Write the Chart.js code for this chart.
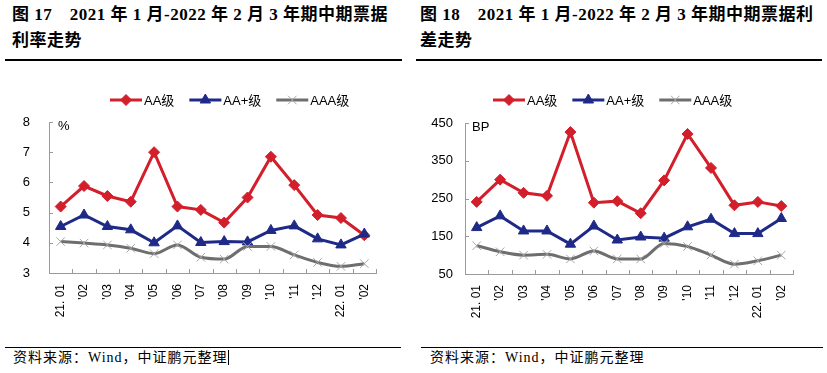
<!DOCTYPE html>
<html>
<head>
<meta charset="utf-8">
<script src="https://cdn.jsdelivr.net/npm/chart.js@4.4.0/dist/chart.umd.min.js"></script>
<style>
  body { margin: 0; width: 827px; height: 373px; background: #fff; position: relative; overflow: hidden; }
  .title { position: absolute; top: 2px; font: bold 17px "Liberation Serif", "Noto Sans CJK SC", serif; line-height: 26px; color: #000; white-space: nowrap; letter-spacing: 0.5px; }
  .rule { position: absolute; height: 0; border-top: 2px solid #000; }
  .src { position: absolute; top: 348px; font: 14px "Liberation Serif", "Noto Sans CJK SC", serif; line-height: 20px; color: #000; white-space: nowrap; letter-spacing: 1px; }
  .box { position: absolute; }
</style>
</head>
<body>
<div class="title" style="left:12px">图 17　2021 年 1 月-2022 年 2 月 3 年期中期票据<br>利率走势</div>
<div class="title" style="left:420px">图 18　2021 年 1 月-2022 年 2 月 3 年期中期票据利<br>差走势</div>
<div class="rule" style="left:5px;top:59px;width:397px"></div>
<div class="rule" style="left:416px;top:59px;width:406px"></div>

<div class="box" style="left:0;top:85px"><canvas id="rate" width="410" height="250"></canvas></div>
<div class="box" style="left:415px;top:85px"><canvas id="spread" width="412" height="251"></canvas></div>

<div class="rule" style="left:5px;top:347px;width:396px;border-top-width:1.5px"></div>
<div class="rule" style="left:421px;top:347px;width:402px;border-top-width:1.5px"></div>
<div class="src" style="left:13px"><span style="border-right:1px solid #000">资料来源：Wind，中证鹏元整理</span></div>
<div class="src" style="left:430px">资料来源：Wind，中证鹏元整理</div>

<script>
// categories
const months = ['21. 01', "'02", "'03", "'04", "'05", "'06", "'07", "'08", "'09", "'10", "'11", "'12", '22. 01', "'02"];

// 3y MTN yields, %
const rateAA     = [5.20, 5.88, 5.55, 5.36, 7.00, 5.20, 5.09, 4.67, 5.50, 6.85, 5.91, 4.92, 4.82, 4.25];
const rateAAplus = [4.54, 4.92, 4.54, 4.43, 4.00, 4.56, 4.01, 4.04, 4.03, 4.41, 4.56, 4.13, 3.93, 4.29];
const rateAAA    = [4.04, 3.99, 3.93, 3.82, 3.64, 3.93, 3.52, 3.46, 3.88, 3.88, 3.60, 3.35, 3.22, 3.31];

// 3y MTN spreads, BP
const spreadAA     = [241, 300, 265, 257, 426, 239, 243, 211, 298, 421, 331, 232, 241, 230];
const spreadAAplus = [173, 204, 164, 164, 129, 177, 140, 148, 145, 175, 195, 157, 157, 197];
const spreadAAA    = [125, 109, 100, 102,  90, 111,  90,  90, 131, 123, 100,  76,  85, 100];

// y axis ticks
const rateTicks = [3, 4, 5, 6, 7, 8];
const spreadTicks = [50, 150, 250, 350, 450];

const seriesNames = ['AA级', 'AA+级', 'AAA级'];

const RED = '#d21f2b';
const BLUE = '#1f2a88';
const GRAY = '#6e6e6e';
const AXIS = '#9a9a9a';

Chart.defaults.font.family = '"Liberation Sans", "Noto Sans CJK SC", sans-serif';
Chart.defaults.font.size = 13;
Chart.defaults.color = '#000';

// inner tick marks, unit label and line+marker legend
const decor = {
  id: 'decor',
  afterDraw(chart, args, opts) {
    const ctx = chart.ctx;
    const a = chart.chartArea;
    const ys = chart.scales.y;
    const n = chart.data.labels.length;
    ctx.save();
    ctx.strokeStyle = AXIS;
    ctx.lineWidth = 1;
    ctx.beginPath();
    for (let i = 0; i <= n; i++) {
      const px = Math.round(a.left + i * (a.right - a.left) / n) + 0.5;
      ctx.moveTo(px, a.bottom);
      ctx.lineTo(px, a.bottom - 4);
    }
    ys.ticks.forEach((t, i) => {
      const py = Math.round(ys.getPixelForTick(i)) + 0.5;
      ctx.moveTo(a.left, py);
      ctx.lineTo(a.left + 4, py);
    });
    ctx.stroke();

    ctx.fillStyle = '#000';
    ctx.font = '13px "Liberation Sans", "Noto Sans CJK SC", sans-serif';
    ctx.textBaseline = 'top';
    ctx.textAlign = 'left';
    ctx.fillText(opts.unit, a.left + opts.unitDx, a.top - 2);

    let lx = opts.legendX;
    const ly = opts.legendY;
    chart.data.datasets.forEach(ds => {
      ctx.strokeStyle = ds.borderColor;
      ctx.lineWidth = 3;
      ctx.beginPath();
      ctx.moveTo(lx, ly);
      ctx.lineTo(lx + 32, ly);
      ctx.stroke();
      ctx.fillStyle = ds.pointBackgroundColor;
      ctx.strokeStyle = ds.pointBorderColor;
      ctx.lineWidth = ds.pointBorderWidth;
      Chart.helpers.drawPoint(ctx, { pointStyle: ds.pointStyle, radius: ds.pointRadius, rotation: 0, borderWidth: ds.pointBorderWidth }, lx + 16, ly);
      ctx.fillStyle = '#000';
      ctx.textBaseline = 'middle';
      ctx.fillText(ds.label, lx + 34, ly + 1);
      lx += 34 + ctx.measureText(ds.label).width + 15;
    });
    ctx.restore();
  }
};

function makeChart(id, aa, aaplus, aaa, ticks, unit, cfg) {
  const step = ticks[1] - ticks[0];
  return new Chart(document.getElementById(id), {
    type: 'line',
    data: {
      labels: months,
      datasets: [
        { label: seriesNames[0], data: aa, borderColor: RED, borderWidth: 3, pointStyle: 'rectRot', pointRadius: 5.5,
          pointBackgroundColor: RED, pointBorderColor: RED, pointBorderWidth: 1, tension: 0, order: 3 },
        { label: seriesNames[1], data: aaplus, borderColor: BLUE, borderWidth: 3, pointStyle: 'triangle', pointRadius: 6,
          pointBackgroundColor: BLUE, pointBorderColor: BLUE, pointBorderWidth: 1, tension: 0, order: 2 },
        { label: seriesNames[2], data: aaa, borderColor: GRAY, borderWidth: 3, pointStyle: 'crossRot', pointRadius: 6,
          pointBackgroundColor: '#a6a6a6', pointBorderColor: '#a6a6a6', pointBorderWidth: 1,
          cubicInterpolationMode: 'monotone', order: 1 }
      ]
    },
    options: {
      responsive: false,
      animation: false,
      devicePixelRatio: 1,
      layout: { padding: { top: cfg.top, right: cfg.right, left: 0, bottom: 0 } },
      plugins: {
        legend: { display: false },
        tooltip: { enabled: false },
        decor: { unit: unit, unitDx: cfg.unitDx, legendX: cfg.legendX, legendY: 15 }
      },
      scales: {
        x: {
          offset: true,
          grid: { offset: true, drawOnChartArea: false, drawTicks: false },
          border: { color: AXIS, width: 1 },
          ticks: { autoSkip: false, maxRotation: 90, minRotation: 90, padding: 11, font: { size: 12 } },
          afterFit: s => { s.height = 62; }
        },
        y: {
          min: ticks[0],
          max: ticks[ticks.length - 1],
          grid: { drawOnChartArea: false, drawTicks: false },
          border: { color: AXIS, width: 1 },
          ticks: { stepSize: step, padding: cfg.labelGap },
          afterFit: s => { s.width = cfg.yWidth; }
        }
      }
    },
    plugins: [decor]
  });
}

makeChart('rate', rateAA, rateAAplus, rateAAA, rateTicks, '%',
  { top: 37, right: 34, yWidth: 49, labelGap: 19, unitDx: 9, legendX: 110 });
makeChart('spread', spreadAA, spreadAAplus, spreadAAA, spreadTicks, 'BP',
  { top: 38, right: 34, yWidth: 50, labelGap: 12, unitDx: 7, legendX: 78 });
</script>
</body>
</html>
